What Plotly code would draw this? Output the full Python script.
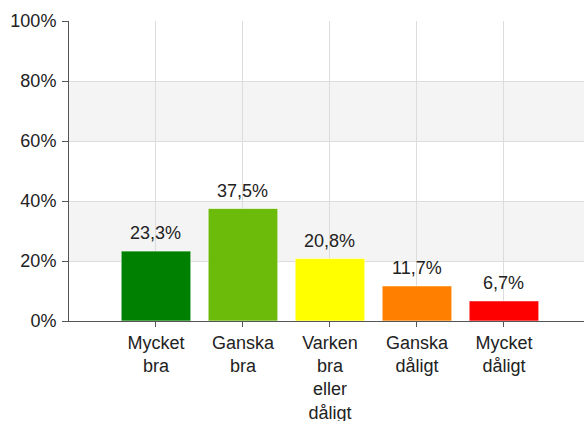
import plotly.graph_objects as go

categories = ["Mycket<br>bra", "Ganska<br>bra", "Varken<br>bra<br>eller<br>dåligt", "Ganska<br>dåligt", "Mycket<br>dåligt"]
values = [23.3, 37.5, 20.8, 11.7, 6.7]
colors = ["#008000", "#6cbb0a", "#ffff00", "#ff8000", "#ff0000"]
y_ticks = [0, 20, 40, 60, 80, 100]
y_tick_labels = ["0%", "20%", "40%", "60%", "80%", "100%"]
bands = [(20, 40), (60, 80)]

fig = go.Figure()
fig.add_trace(go.Bar(
    x=categories, y=values,
    marker=dict(color=colors, line=dict(color="rgba(255,255,255,0.6)", width=1)),
    width=0.8,
    hoverinfo="skip",
))

for cat, v in zip(categories, values):
    fig.add_annotation(
        x=cat, y=v, xref="x", yref="y",
        text=f"{v:.1f}%".replace(".", ","),
        showarrow=False, yanchor="bottom", yshift=6,
        font=dict(family="Liberation Sans, Arial, sans-serif", size=18, color="#222"),
    )

for lo, hi in bands:
    fig.add_shape(type="rect", xref="paper", yref="y", x0=0, x1=1, y0=lo, y1=hi,
                  fillcolor="#f4f4f4", line=dict(width=0), layer="below")

font = dict(family="Liberation Sans, Arial, sans-serif", size=18, color="#222")
fig.update_layout(
    width=584, height=421,
    margin=dict(l=69, r=0, t=21, b=100),
    paper_bgcolor="white", plot_bgcolor="white",
    showlegend=False, font=font,
    bargap=0.2,
)
fig.update_xaxes(
    range=[-1, 4.92], showgrid=True, gridcolor="#dcdcdc", gridwidth=1,
    showline=True, linecolor="#555", linewidth=1,
    ticks="outside", ticklen=5, tickcolor="#555",
    tickfont=font, fixedrange=True, zeroline=False, automargin=False,
)
fig.update_yaxes(
    range=[0, 100], tickvals=y_ticks, ticktext=y_tick_labels,
    showgrid=True, gridcolor="#dcdcdc", gridwidth=1,
    showline=True, linecolor="#555", linewidth=1,
    ticks="outside", ticklen=6, tickcolor="#555", ticklabelstandoff=2,
    tickfont=font, zeroline=False, fixedrange=True, automargin=False,
)
fig.write_html("out.html", config={"displayModeBar": False},
               post_script="document.body.style.margin='0';document.body.style.overflow='hidden';")
